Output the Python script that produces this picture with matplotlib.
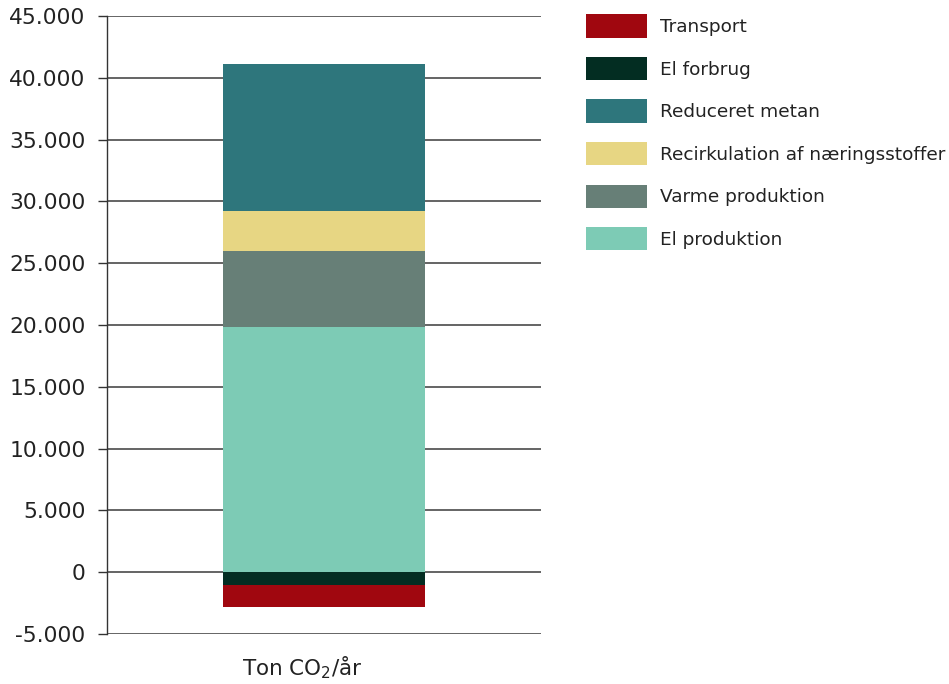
import matplotlib
matplotlib.use("Agg")
import matplotlib.pyplot as plt
from matplotlib.patches import Patch
from matplotlib.ticker import FuncFormatter

categories = ["Ton CO$_2$/år"]
series_names = ["El produktion", "Varme produktion", "Recirkulation af næringsstoffer",
                "Reduceret metan", "El forbrug", "Transport"]
series_values = [19800, 6200, 3200, 11900, -1000, -1800]
colors = ["#7dcbb5", "#677f77", "#e7d683", "#2e767c", "#032d22", "#a0070f"]
legend_order = ["Transport", "El forbrug", "Reduceret metan",
                "Recirkulation af næringsstoffer", "Varme produktion", "El produktion"]
yticks = list(range(-5000, 45001, 5000))

plt.rcParams['font.family'] = ['DejaVu Sans']
fig = plt.figure(figsize=(9.49, 6.84), dpi=100)
ax = fig.add_axes([107/949, 1-634/684, (541-107)/949, (634-16)/684])

pos_bottom = 0
neg_bottom = 0
for name, val, col in zip(series_names, series_values, colors):
    if val >= 0:
        ax.bar(0, val, bottom=pos_bottom, width=1.0, color=col, zorder=3)
        pos_bottom += val
    else:
        ax.bar(0, val, bottom=neg_bottom, width=1.0, color=col, zorder=3)
        neg_bottom += val

ax.set_xlim(-1.075, 1.075)
ax.set_ylim(-5000, 45000)
ax.set_yticks(yticks)
ax.yaxis.set_major_formatter(FuncFormatter(lambda v, p: f"{int(v):,}".replace(",", ".")))
ax.tick_params(axis='y', length=6.5, width=1, color='#333333', pad=9,
               labelsize=15.7, labelcolor='#222222')
ax.set_xticks([])
ax.grid(axis='y', color='#4a4a4a', linewidth=1.2, zorder=1)
for s in ['top', 'right', 'bottom']:
    ax.spines[s].set_visible(False)
ax.spines['left'].set_color('#333333')
ax.spines['left'].set_linewidth(1)

ax.text(-0.11, -0.055, categories[0], transform=ax.get_xaxis_transform(),
        ha='center', va='center', fontsize=15.5, color='#222222')

cmap = dict(zip(series_names, colors))
handles = [Patch(facecolor=cmap[n], edgecolor='none', label=n) for n in legend_order]
leg = fig.legend(handles=handles, loc='upper left', bbox_to_anchor=(579/949, 1-7/684),
                 frameon=False, fontsize=13.3, handlelength=3.3, handleheight=1.55,
                 labelspacing=1.05, handletextpad=0.7, borderaxespad=0)
for t in leg.get_texts():
    t.set_color('#222222')

fig.savefig("out.png", dpi=100)
